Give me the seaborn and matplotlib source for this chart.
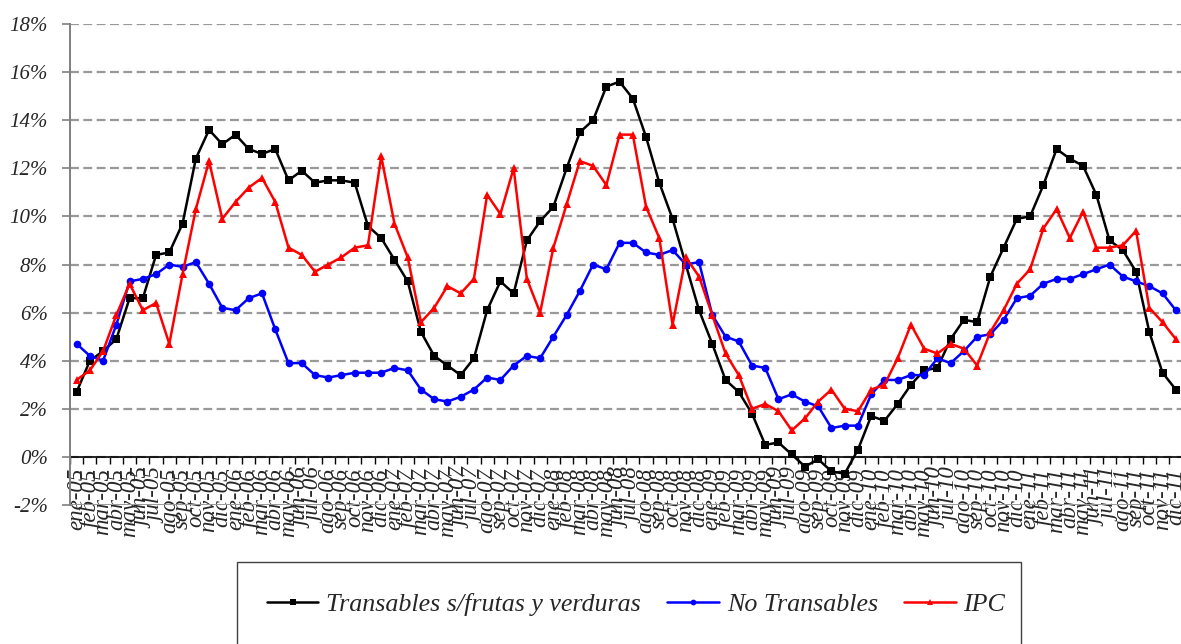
import numpy as np
import pandas as pd
import seaborn as sns
import matplotlib.pyplot as plt
from matplotlib.patches import Rectangle
from matplotlib.ticker import FixedLocator, FuncFormatter

sns.set_theme(style="white")
plt.rcParams['font.family'] = ['Liberation Serif', 'DejaVu Serif']
plt.rcParams['font.style'] = 'italic'

# month labels ene-05 ... dic-11
months = ["ene", "feb", "mar", "abr", "may", "jun",
          "jul", "ago", "sep", "oct", "nov", "dic"]
years = ["05", "06", "07", "08", "09", "10", "11"]
labels = [f"{m}-{y}" for y in years for m in months]

# year-on-year change, %
transables = [
    2.7, 4.0, 4.4, 4.9, 6.6, 6.6, 8.4, 8.5, 9.7, 12.4, 13.6, 13.0,
    13.4, 12.8, 12.6, 12.8, 11.5, 11.9, 11.4, 11.5, 11.5, 11.4, 9.6, 9.1,
    8.2, 7.3, 5.2, 4.2, 3.8, 3.4, 4.1, 6.1, 7.3, 6.8, 9.0, 9.8,
    10.4, 12.0, 13.5, 14.0, 15.4, 15.6, 14.9, 13.3, 11.4, 9.9, 8.0, 6.1,
    4.7, 3.2, 2.7, 1.8, 0.5, 0.6, 0.1, -0.4, -0.1, -0.6, -0.7, 0.3,
    1.7, 1.5, 2.2, 3.0, 3.6, 3.7, 4.9, 5.7, 5.6, 7.5, 8.7, 9.9,
    10.0, 11.3, 12.8, 12.4, 12.1, 10.9, 9.0, 8.6, 7.7, 5.2, 3.5, 2.8,
]
no_transables = [
    4.7, 4.2, 4.0, 5.5, 7.3, 7.4, 7.6, 8.0, 7.9, 8.1, 7.2, 6.2,
    6.1, 6.6, 6.8, 5.3, 3.9, 3.9, 3.4, 3.3, 3.4, 3.5, 3.5, 3.5,
    3.7, 3.6, 2.8, 2.4, 2.3, 2.5, 2.8, 3.3, 3.2, 3.8, 4.2, 4.1,
    5.0, 5.9, 6.9, 8.0, 7.8, 8.9, 8.9, 8.5, 8.4, 8.6, 8.0, 8.1,
    5.9, 5.0, 4.8, 3.8, 3.7, 2.4, 2.6, 2.3, 2.1, 1.2, 1.3, 1.3,
    2.6, 3.2, 3.2, 3.4, 3.4, 4.1, 3.9, 4.4, 5.0, 5.1, 5.7, 6.6,
    6.7, 7.2, 7.4, 7.4, 7.6, 7.8, 8.0, 7.5, 7.3, 7.1, 6.8, 6.1,
]
ipc = [
    3.2, 3.6, 4.4, 5.9, 7.2, 6.1, 6.4, 4.7, 7.6, 10.3, 12.3, 9.9,
    10.6, 11.2, 11.6, 10.6, 8.7, 8.4, 7.7, 8.0, 8.3, 8.7, 8.8, 12.5,
    9.7, 8.3, 5.6, 6.2, 7.1, 6.8, 7.4, 10.9, 10.1, 12.0, 7.4, 6.0,
    8.7, 10.5, 12.3, 12.1, 11.3, 13.4, 13.4, 10.4, 9.1, 5.5, 8.3, 7.5,
    5.9, 4.3, 3.4, 2.0, 2.2, 1.9, 1.1, 1.6, 2.3, 2.8, 2.0, 1.9,
    2.8, 3.0, 4.1, 5.5, 4.5, 4.3, 4.7, 4.5, 3.8, 5.2, 6.1, 7.2,
    7.8, 9.5, 10.3, 9.1, 10.2, 8.7, 8.7, 8.8, 9.4, 6.2, 5.6, 4.9,
]

df = pd.DataFrame({
    "idx": np.arange(len(labels)),
    "Transables s/frutas y verduras": transables,
    "No Transables": no_transables,
    "IPC": ipc,
})

W, H = 1181, 644
fig = plt.figure(figsize=(W / 100, H / 100), dpi=100)
ax = fig.add_axes([70 / W, 139 / H, (1182.4 - 70) / W, 481 / H])

styles = [
    ("Transables s/frutas y verduras", "black", "s"),
    ("No Transables", "#0000FF", "o"),
    ("IPC", "#FF0000", "^"),
]
for name, col, mk in styles:
    sns.lineplot(data=df, x="idx", y=name, ax=ax, color=col, marker=mk,
                 markersize=5.5, markeredgewidth=0, linewidth=1.8,
                 label=name, legend=False, zorder=3)

ax.set_xlim(-0.5, len(labels) - 0.5)
ax.set_ylim(-2, 18)

# gridlines
for v in range(0, 20, 2):
    ax.axhline(v, color="#999999", lw=1.6, ls=(0, (4, 2)), zorder=1)
ax.axhline(-2, color="#999999", lw=1.4, zorder=1)

# axes / spines
for s in ["top", "right"]:
    ax.spines[s].set_visible(False)
ax.spines["left"].set_color("#808080")
ax.spines["left"].set_linewidth(1.4)
ax.spines["bottom"].set_position(("data", 0))
ax.spines["bottom"].set_color("black")
ax.spines["bottom"].set_linewidth(1.2)
ax.spines["bottom"].set_zorder(2)

ax.set_yticks(range(-2, 20, 2))
ax.yaxis.set_major_formatter(FuncFormatter(lambda v, p: f"{v:.0f}%"))
ax.tick_params(axis="y", which="major", left=True, length=6, width=1.2,
               color="#808080", pad=10, labelsize=15)

ax.set_xticks(df["idx"])
ax.set_xticklabels(labels, rotation=90, fontsize=16.5)
ax.xaxis.set_minor_locator(FixedLocator(np.arange(-0.5, len(labels), 1)))
ax.tick_params(axis="x", which="major", bottom=True, length=0, pad=8)
ax.tick_params(axis="x", which="minor", bottom=True, length=5, width=1.0,
               color="black", direction="out")
for t in ax.get_xticklabels():
    t.set_verticalalignment("top")

ax.set_xlabel("")
ax.set_ylabel("")

# legend box at the bottom
fig.patches.append(Rectangle((237 / W, -0.02), (1021 - 237) / W,
                             (644 - 562) / H + 0.02, transform=fig.transFigure,
                             fill=False, edgecolor="#404040", lw=1.0))
handles, lbls = ax.get_legend_handles_labels()
fig.legend(handles, lbls, loc="center", bbox_to_anchor=(636 / W, (644 - 604) / H),
           ncol=3, frameon=False, fontsize=18.7, handlelength=2.0,
           handletextpad=0.3, columnspacing=1.0, markerscale=0.75)

fig.savefig("out.png", dpi=100)
